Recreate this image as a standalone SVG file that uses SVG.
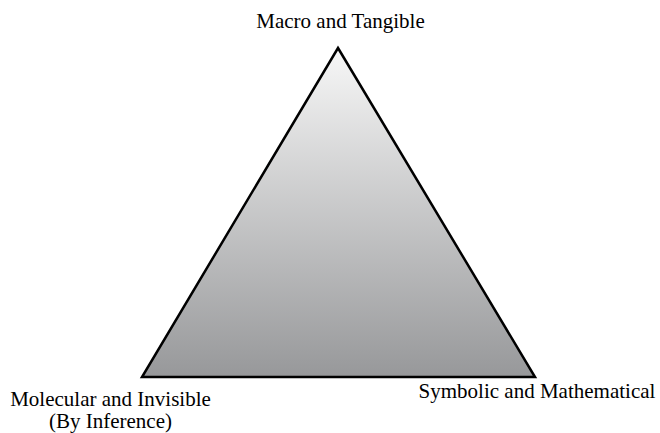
<svg xmlns="http://www.w3.org/2000/svg" width="660" height="433" viewBox="0 0 660 433">
<style>
text{font-family:"Liberation Serif","Times New Roman",serif;font-size:21px;fill:#000;text-anchor:middle}
</style>
<defs>
<linearGradient id="g" x1="0" y1="0" x2="0" y2="1">
<stop offset="0" stop-color="#f7f7f7"/>
<stop offset="1" stop-color="#97989a"/>
</linearGradient>
</defs>
<rect width="660" height="433" fill="#fff"/>
<g id="triangle">
<polygon points="338,48 535,377 142,377" fill="url(#g)" stroke="#000" stroke-width="2.5" stroke-linejoin="miter"/>
</g>
<g id="top-label"><text x="340.5" y="28">Macro and Tangible</text></g>
<g id="left-label"><text x="110.5" y="406">Molecular and Invisible</text><text x="110.5" y="428">(By Inference)</text></g>
<g id="right-label"><text x="537" y="398">Symbolic and Mathematical</text></g>
<g id="connectors"></g>
</svg>
